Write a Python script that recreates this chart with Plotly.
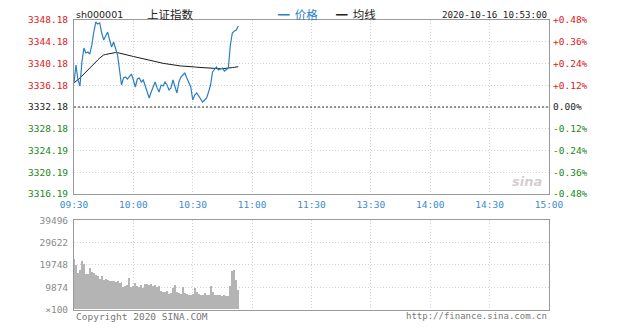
import plotly.graph_objects as go

# ---------------- data ----------------
prev_close = 3332.18
minutes = list(range(84))  # 09:30 .. 10:53

price = [3336.60, 3339.91, 3337.15, 3336.05, 3340.46, 3343.03, 3342.11, 3342.30, 3341.93, 3343.58,
         3345.97, 3347.81, 3347.44, 3347.63, 3345.79, 3344.50, 3345.24, 3345.97, 3344.50, 3343.22,
         3344.14, 3342.66, 3341.75, 3338.99, 3336.23, 3337.52, 3337.70, 3337.33, 3337.88, 3338.25,
         3337.15, 3335.86, 3337.33, 3337.52, 3336.78, 3337.15, 3336.05, 3334.94, 3333.84, 3334.94,
         3336.05, 3336.78, 3335.68, 3334.94, 3336.23, 3336.05, 3336.78, 3336.23, 3335.31, 3335.68,
         3337.15, 3335.68, 3334.76, 3336.78, 3337.70, 3338.07, 3338.44, 3337.52, 3336.78, 3335.86,
         3333.47, 3334.39, 3334.76, 3334.21, 3333.84, 3333.10, 3333.47, 3333.84, 3334.94, 3336.23,
         3338.62, 3339.17, 3339.54, 3338.99, 3339.17, 3339.36, 3338.80, 3339.17, 3339.36, 3343.58,
         3345.79, 3346.16, 3346.34, 3347.08]

avg_line = [3336.60, 3336.97, 3337.15, 3337.52, 3337.88, 3338.25, 3338.80, 3339.17, 3339.54, 3339.72,
            3340.09, 3340.46, 3340.83, 3341.19, 3341.56, 3341.75, 3341.84, 3341.93, 3342.02, 3342.11,
            3342.20, 3342.20, 3342.18, 3342.11, 3342.02, 3341.93, 3341.84, 3341.75, 3341.65, 3341.56,
            3341.47, 3341.38, 3341.29, 3341.19, 3341.10, 3341.01, 3340.92, 3340.83, 3340.73, 3340.64,
            3340.55, 3340.46, 3340.40, 3340.35, 3340.27, 3340.22, 3340.16, 3340.09, 3340.04, 3339.98,
            3339.91, 3339.85, 3339.80, 3339.76, 3339.72, 3339.71, 3339.70, 3339.69, 3339.65, 3339.61,
            3339.58, 3339.54, 3339.50, 3339.47, 3339.43, 3339.39, 3339.36, 3339.32, 3339.28, 3339.25,
            3339.22, 3339.21, 3339.21, 3339.21, 3339.22, 3339.23, 3339.25, 3339.26, 3339.30, 3339.36,
            3339.43, 3339.48, 3339.54, 3339.59]

volume = [22260, 19750, 16070, 17250, 21230, 20190, 15620, 15620, 18280, 16510,
          16070, 15030, 14590, 13410, 14890, 13120, 13560, 13120, 12680, 12380,
          12680, 12090, 12380, 11640, 11900, 9880, 10170, 10910, 13860, 9730,
          10170, 11640, 10170, 9730, 10910, 9430, 11200, 11200, 10800, 11200,
          10170, 10910, 9730, 10170, 8250, 7660, 7660, 8250, 6780, 7220,
          9430, 10610, 7660, 7220, 6780, 9730, 7100, 6780, 6490, 6490,
          6780, 9430, 7660, 6780, 6490, 6190, 7220, 6490, 6190, 10170,
          7660, 6490, 6190, 6490, 6190, 5750, 6490, 6000, 5900, 10170,
          16800, 17250, 13120, 8700]

time_ticks = [0, 30, 60, 90, 120, 150, 180, 210, 240]
time_labels = ["09:30", "10:00", "10:30", "11:00", "11:30", "13:30", "14:00", "14:30", "15:00"]

price_ticks = [3316.19, 3320.19, 3324.19, 3328.18, 3332.18, 3336.18, 3340.18, 3344.18, 3348.18]
pct_ticks = [-0.48, -0.36, -0.24, -0.12, 0.00, 0.12, 0.24, 0.36, 0.48]
pct_labels = ["-0.48%", "-0.36%", "-0.24%", "-0.12%", "0.00%", "+0.12%", "+0.24%", "+0.36%", "+0.48%"]

vol_ticks = [0, 9874, 19748, 29622, 39496]
vol_labels = ["×100", "9874", "19748", "29622", "39496"]

# ---------------- style ----------------
RED = "#e02020"
GREEN = "#1a8a1a"
BLACK = "#222222"
BLUE = "#3b8bd0"
GRID = "#d2d2d2"
BORDER = "#9a9a9a"
MONO = "DejaVu Sans Mono"
DOT = "1px,2px"

price_text = []
for v in price_ticks:
    if v > prev_close + 0.001:
        c = RED
    elif v < prev_close - 0.001:
        c = GREEN
    else:
        c = BLACK
    price_text.append('<span style="color:%s">%.2f</span>' % (c, v))

pct_text = []
for v, lab in zip(pct_ticks, pct_labels):
    c = RED if v > 0 else (GREEN if v < 0 else BLACK)
    pct_text.append('<span style="color:%s">%s</span>' % (c, lab))

fig = go.Figure()

fig.add_trace(go.Scatter(x=minutes, y=avg_line, mode="lines", name="均线",
                         line=dict(color="#1a1a1a", width=1), xaxis="x", yaxis="y",
                         showlegend=False))
fig.add_trace(go.Scatter(x=minutes, y=price, mode="lines", name="价格",
                         line=dict(color="#2b7fc4", width=1.2), xaxis="x", yaxis="y",
                         showlegend=False))
# helper (invisible) trace for the percentage axis
fig.add_trace(go.Scatter(x=[0], y=[0], mode="markers", marker=dict(opacity=0),
                         xaxis="x", yaxis="y2", showlegend=False, hoverinfo="skip"))
fig.add_trace(go.Bar(x=minutes, y=volume, marker=dict(color="#b4b4b4", line=dict(width=0)),
                     width=0.5, xaxis="x2", yaxis="y3", showlegend=False))

x0, x1 = 74 / 618, 549 / 618
fig.update_layout(
    width=618, height=328,
    margin=dict(l=0, r=0, t=0, b=0, autoexpand=False),
    paper_bgcolor="white", plot_bgcolor="white",
    font=dict(family=MONO, size=9.5, color="#333"),
    xaxis=dict(domain=[x0, x1], range=[0, 240], tickvals=time_ticks, ticktext=time_labels,
               tickfont=dict(color=BLUE, size=9.5, family=MONO), showgrid=True,
               gridcolor=GRID, griddash=DOT, gridwidth=1, zeroline=False,
               showline=True, linecolor=BORDER, mirror=True, ticks="", anchor="y",
               ticklabelstandoff=2, automargin=False),
    yaxis=dict(domain=[1 - 194 / 328, 1 - 20 / 328], range=[3316.19, 3348.18],
               tickvals=price_ticks, ticktext=price_text, showgrid=True,
               gridcolor=GRID, griddash=DOT, zeroline=False, showline=True,
               linecolor=BORDER, mirror=True, ticks="", tickfont=dict(size=9.5, family=MONO),
               ticklabelstandoff=3, anchor="x", automargin=False),
    yaxis2=dict(overlaying="y", side="right", range=[-0.48, 0.48], tickvals=pct_ticks,
                ticktext=pct_text, showgrid=False, zeroline=False, ticks="",
                tickfont=dict(size=9.5, family=MONO), ticklabelstandoff=3, anchor="x",
                automargin=False),
    xaxis2=dict(domain=[x0, x1], range=[0, 240], tickvals=time_ticks, showticklabels=False,
                showgrid=True, gridcolor=GRID, griddash=DOT, zeroline=False,
                showline=True, linecolor=BORDER, mirror=True, ticks="", anchor="y3",
                automargin=False),
    yaxis3=dict(domain=[1 - 309.6 / 328, 1 - 220.3 / 328], range=[0, 39496],
                tickvals=vol_ticks, ticktext=vol_labels, showgrid=True, gridcolor=GRID,
                griddash=DOT, zeroline=False, showline=True, linecolor=BORDER, mirror=True,
                ticks="", tickfont=dict(size=9.5, family=MONO, color="#8a8a8a"),
                ticklabelstandoff=3, anchor="x2", automargin=False),
    bargap=0,
)

# previous-close reference line
fig.add_shape(type="line", xref="x", yref="y", x0=0, x1=240, y0=prev_close, y1=prev_close,
              line=dict(color="#333333", width=1, dash="2px,2px"))

ann = []
ann.append(dict(x=74 / 618, y=1 - 14 / 328, xref="paper", yref="paper", text="sh000001",
                showarrow=False, xanchor="left", yanchor="middle",
                font=dict(family="DejaVu Sans", size=9.5, color="#222")))
ann.append(dict(x=170 / 618, y=1 - 14 / 328, xref="paper", yref="paper", text="上证指数",
                showarrow=False, xanchor="center", yanchor="middle",
                font=dict(family="Noto Sans CJK SC", size=11.5, color="#222")))
ann.append(dict(x=276 / 618, y=1 - 14 / 328, xref="paper", yref="paper",
                text='<span style="color:#2b7fc4"><b>━</b></span>  <span style="color:#2b7fc4">价格</span>',
                showarrow=False, xanchor="left", yanchor="middle",
                font=dict(family="Noto Sans CJK SC", size=11.5)))
ann.append(dict(x=334 / 618, y=1 - 14 / 328, xref="paper", yref="paper",
                text='<b>━</b>  均线',
                showarrow=False, xanchor="left", yanchor="middle",
                font=dict(family="Noto Sans CJK SC", size=11.5, color="#222")))
ann.append(dict(x=549 / 618, y=1 - 14 / 328, xref="paper", yref="paper",
                text="2020-10-16 10:53:00", showarrow=False, xanchor="right", yanchor="middle",
                font=dict(family=MONO, size=9.2, color="#222")))
ann.append(dict(x=74 / 618, y=1 - 316 / 328, xref="paper", yref="paper",
                text="Copyright 2020 SINA.COM", showarrow=False, xanchor="left", yanchor="middle",
                font=dict(family=MONO, size=9.5, color="#777")))
ann.append(dict(x=549 / 618, y=1 - 316 / 328, xref="paper", yref="paper",
                text="http://finance.sina.com.cn", showarrow=False, xanchor="right",
                yanchor="middle", font=dict(family=MONO, size=9, color="#777")))
ann.append(dict(x=527 / 618, y=1 - 181 / 328, xref="paper", yref="paper",
                text="<i><b>sina</b></i>", showarrow=False, xanchor="center", yanchor="middle",
                font=dict(family="DejaVu Sans", size=13, color="rgba(175,160,165,0.55)")))
fig.update_layout(annotations=ann)

fig.write_html("out.html")
